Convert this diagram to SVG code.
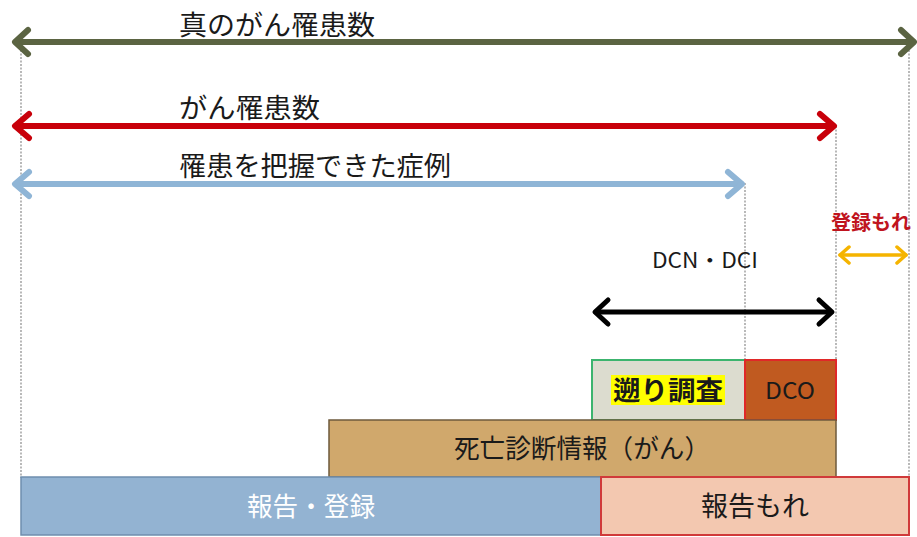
<svg xmlns="http://www.w3.org/2000/svg" width="917" height="537" viewBox="0 0 917 537">
<style>
.guide{stroke:#8a8a8a;stroke-width:1.2;stroke-dasharray:2 1.5;fill:none}
.arr{fill:none;stroke-linecap:round;stroke-linejoin:round}
.t{font-family:"Noto Sans CJK JP","Liberation Sans",sans-serif;}
</style>
<rect width="917" height="537" fill="#ffffff"/>
<g id="guides">
<line class="guide" x1="21" y1="43" x2="21" y2="478"/>
<line class="guide" x1="745" y1="183" x2="745" y2="361"/>
<line class="guide" x1="836" y1="126" x2="836" y2="361"/>
<line class="guide" x1="909" y1="43" x2="909" y2="476"/>
</g>
<g id="connectors">
<g id="arrow-true" class="arr" stroke="#5b6442" stroke-width="6">
<line x1="16" y1="42" x2="913" y2="42"/>
<polyline points="28,30 15,42 28,54"/>
<polyline points="901,30 914,42 901,54"/>
</g>
<g id="arrow-incidence" class="arr" stroke="#c8000a" stroke-width="6">
<line x1="16" y1="126" x2="832" y2="126"/>
<polyline points="29,114 15,126 29,138"/>
<polyline points="820,114 834,126 820,138"/>
</g>
<g id="arrow-known" class="arr" stroke="#8fb5d6" stroke-width="6">
<line x1="16" y1="184" x2="741" y2="184"/>
<polyline points="29,172 15,184 29,196"/>
<polyline points="728,172 742,184 728,196"/>
</g>
<g id="arrow-dcn" class="arr" stroke="#000000" stroke-width="5">
<line x1="596" y1="312" x2="831" y2="312"/>
<polyline points="608,300 595,312 608,324"/>
<polyline points="819,300 832,312 819,324"/>
</g>
<g id="arrow-missed" class="arr" stroke="#f5b400" stroke-width="3.5">
<line x1="840" y1="255" x2="906" y2="255"/>
<polyline points="849,247 840,255 849,263"/>
<polyline points="897,247 906,255 897,263"/>
</g>
</g>
<g id="labels">
<text class="t" x="179" y="35" font-size="27" fill="#1a1a1a" textLength="196" lengthAdjust="spacingAndGlyphs">真のがん罹患数</text>
<text class="t" x="179" y="118" font-size="27" fill="#1a1a1a" textLength="141" lengthAdjust="spacingAndGlyphs">がん罹患数</text>
<text class="t" x="179" y="176" font-size="27" fill="#1a1a1a" textLength="272" lengthAdjust="spacingAndGlyphs">罹患を把握できた症例</text>
<text class="t" x="831" y="230" font-size="20" font-weight="bold" fill="#c0141e">登録もれ</text>
<text class="t" x="652" y="268" font-size="21" fill="#1a1a1a" textLength="106" lengthAdjust="spacingAndGlyphs">DCN・DCI</text>
</g>
<g id="node-sakanobori">
<rect x="592" y="360" width="153" height="60" fill="#dcdccf" stroke="#3cb46e" stroke-width="2"/>
<rect x="611" y="375" width="114" height="30" fill="#ffff00"/>
<text class="t" x="668" y="400" font-size="26" font-weight="bold" fill="#1a1a1a" text-anchor="middle" textLength="110" lengthAdjust="spacingAndGlyphs">遡り調査</text>
</g>
<g id="node-dco">
<rect x="745" y="360" width="91" height="60" fill="#c05a20" stroke="#e02828" stroke-width="2"/>
<text class="t" x="790" y="399" font-size="23" fill="#1a1a1a" text-anchor="middle" textLength="50" lengthAdjust="spacingAndGlyphs">DCO</text>
</g>
<g id="node-death">
<rect x="329" y="420" width="507" height="57" fill="#d0a86c" stroke="#6e5a3c" stroke-width="1.5"/>
<text class="t" x="582" y="458" font-size="26" fill="#1a1a1a" text-anchor="middle" textLength="256" lengthAdjust="spacingAndGlyphs">死亡診断情報（がん）</text>
</g>
<g id="node-reported">
<rect x="21" y="477" width="580" height="58" fill="#93b3d2" stroke="#6f8eae" stroke-width="1.5"/>
<text class="t" x="311" y="516" font-size="26" fill="#ffffff" text-anchor="middle" textLength="128" lengthAdjust="spacingAndGlyphs">報告・登録</text>
</g>
<g id="node-unreported">
<rect x="601" y="477" width="308" height="58" fill="#f3c8b0" stroke="#d03a3a" stroke-width="2"/>
<text class="t" x="755" y="516" font-size="27" fill="#1a1a1a" text-anchor="middle">報告もれ</text>
</g>
</svg>
